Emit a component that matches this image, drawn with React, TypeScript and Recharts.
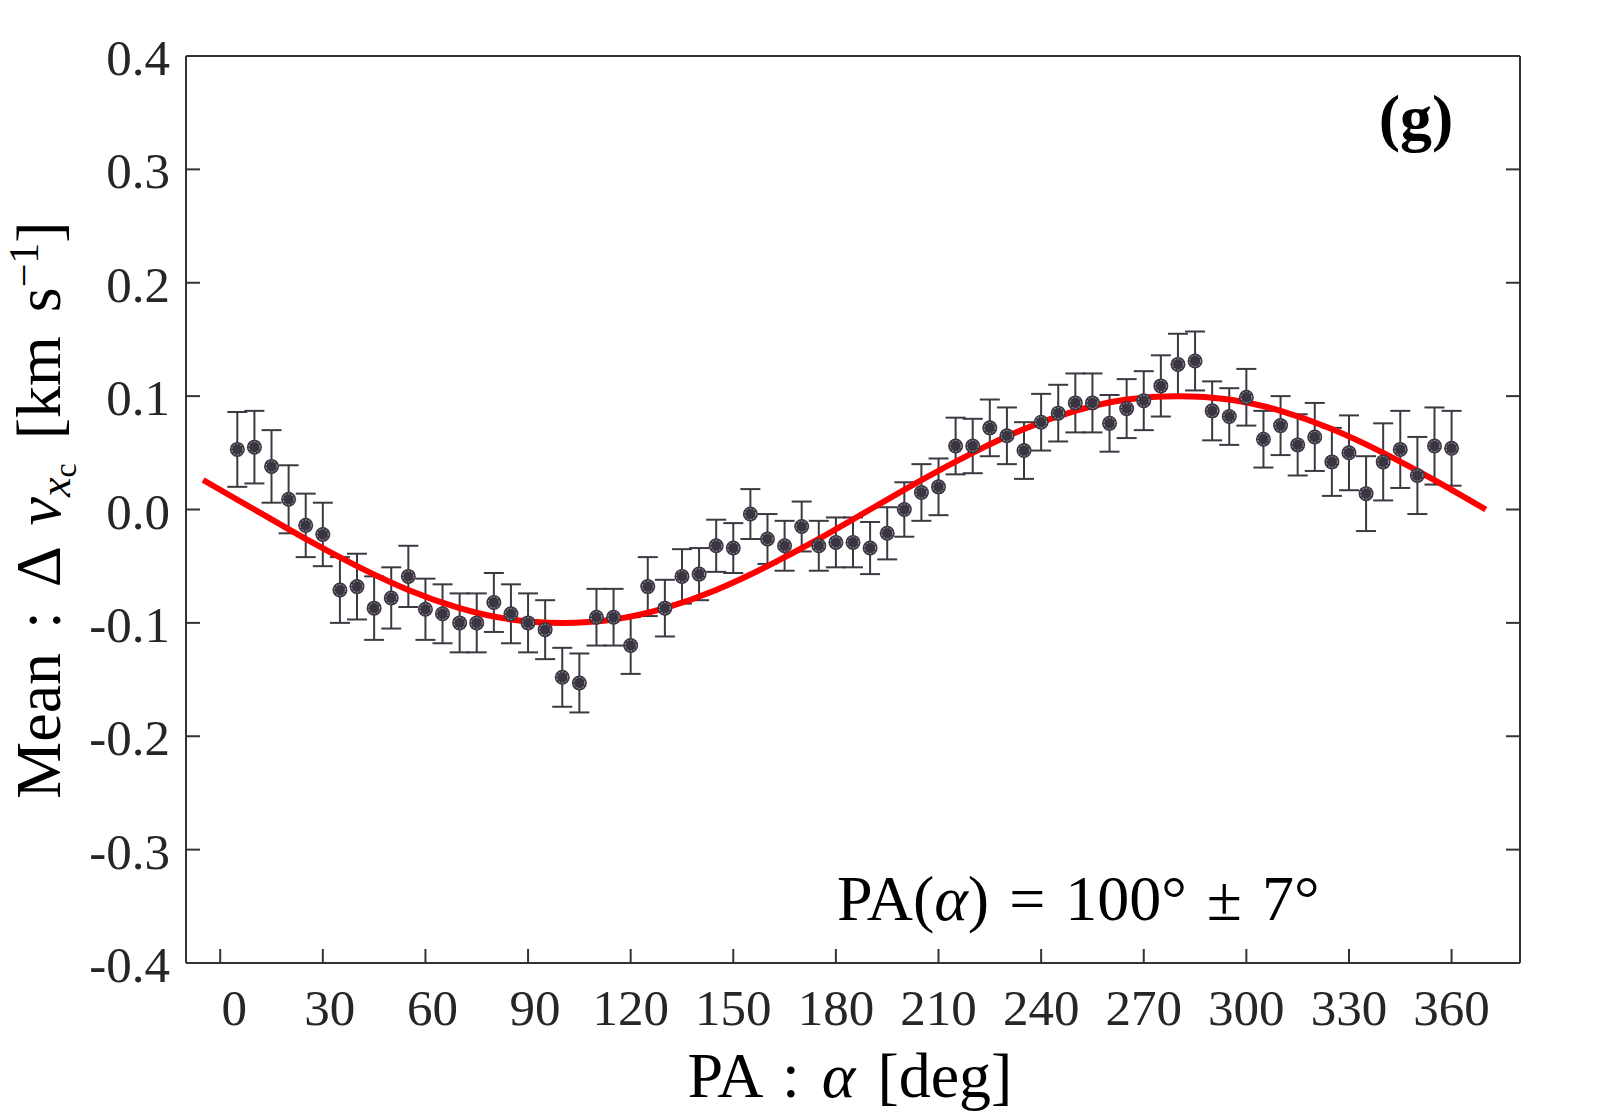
import { ComposedChart, Scatter, Line, ErrorBar, XAxis, YAxis, Customized } from 'recharts';

// Mean offset vs position angle, with a sinusoidal fit (panel g)

const angles = [
  5, 10, 15, 20, 25, 30, 35, 40, 45, 50, 55, 60, 65, 70, 75, 80, 85, 90,
  95, 100, 105, 110, 115, 120, 125, 130, 135, 140, 145, 150, 155, 160, 165, 170, 175, 180,
  185, 190, 195, 200, 205, 210, 215, 220, 225, 230, 235, 240, 245, 250, 255, 260, 265, 270,
  275, 280, 285, 290, 295, 300, 305, 310, 315, 320, 325, 330, 335, 340, 345, 350, 355, 360,
];

const means = [
  0.053, 0.055, 0.038, 0.009, -0.014, -0.022, -0.071, -0.068, -0.087, -0.078, -0.059, -0.088,
  -0.092, -0.1, -0.1, -0.082, -0.092, -0.1, -0.106, -0.148, -0.153, -0.095, -0.095, -0.12,
  -0.068, -0.087, -0.059, -0.057, -0.032, -0.034, -0.004, -0.026, -0.032, -0.015, -0.032, -0.029,
  -0.029, -0.034, -0.021, 0.0, 0.015, 0.02, 0.056, 0.056, 0.072, 0.065, 0.052, 0.077,
  0.085, 0.094, 0.094, 0.076, 0.089, 0.096, 0.109, 0.128, 0.131, 0.087, 0.082, 0.099,
  0.062, 0.074, 0.057, 0.064, 0.042, 0.05, 0.014, 0.042, 0.053, 0.03, 0.056, 0.054,
];

const errors = [
  0.033, 0.032, 0.032, 0.03, 0.028, 0.028, 0.029, 0.029, 0.028, 0.027, 0.027, 0.027,
  0.026, 0.026, 0.026, 0.026, 0.026, 0.026, 0.026, 0.026, 0.026, 0.025, 0.025, 0.025,
  0.026, 0.025, 0.024, 0.023, 0.023, 0.022, 0.022, 0.022, 0.022, 0.022, 0.022, 0.022,
  0.022, 0.023, 0.023, 0.024, 0.025, 0.025, 0.025, 0.024, 0.025, 0.025, 0.025, 0.025,
  0.025, 0.026, 0.026, 0.025, 0.026, 0.026, 0.027, 0.027, 0.026, 0.026, 0.025, 0.025,
  0.025, 0.026, 0.027, 0.03, 0.03, 0.033, 0.033, 0.034, 0.034, 0.034, 0.034, 0.033,
];

// fitted curve
const fitAngles = [-5, 10, 25, 40, 55, 70, 85, 100, 115, 130, 145, 160, 175, 190, 205, 220, 235, 250, 265, 280, 295, 310, 325, 340, 355, 370];
const fitValues = [
  0.026, 0.0, -0.026, -0.05, -0.071, -0.087, -0.097, -0.1, -0.097, -0.087, -0.071, -0.05, -0.026,
  0.0, 0.026, 0.05, 0.071, 0.087, 0.097, 0.1, 0.097, 0.087, 0.071, 0.05, 0.026, 0.0,
];

const xTicks = [0, 30, 60, 90, 120, 150, 180, 210, 240, 270, 300, 330, 360];
const yTicks = [-0.4, -0.3, -0.2, -0.1, 0, 0.1, 0.2, 0.3, 0.4];

const points = angles.map((a, i) => ({ a, m: means[i], err: errors[i] }));
const fit = fitAngles.map((a, i) => ({ a, f: fitValues[i] }));

const FONT = '"Liberation Serif", "Times New Roman", serif';
const AXIS = '#333333';
const TICK_TEXT = '#262626';
const TICK_LEN = 14;

const BottomTick = ({ x, y, payload }: any) => {
  const label = String(payload.value);
  const shift = (3 - label.length) * 7;
  return (
    <g>
      <line x1={x} x2={x} y1={y} y2={y - TICK_LEN} stroke={AXIS} strokeWidth={2} />
      <text x={x + shift} y={y + 62} textAnchor="middle" fontSize={51} fontFamily={FONT} fill={TICK_TEXT}>
        {label}
      </text>
    </g>
  );
};

const TopTick = ({ x, y }: any) => (
  <line x1={x} x2={x} y1={y} y2={y + TICK_LEN} stroke={AXIS} strokeWidth={2} />
);

const LeftTick = ({ x, y, payload }: any) => (
  <g>
    <line x1={x} x2={x + TICK_LEN} y1={y} y2={y} stroke={AXIS} strokeWidth={2} />
    <text x={x - 16} y={y + 19} textAnchor="end" fontSize={51} fontFamily={FONT} fill={TICK_TEXT}>
      {Number(payload.value).toFixed(1)}
    </text>
  </g>
);

const RightTick = ({ x, y }: any) => (
  <line x1={x} x2={x - TICK_LEN} y1={y} y2={y} stroke={AXIS} strokeWidth={2} />
);

const Marker = ({ cx, cy }: any) => (
  <g>
    <circle cx={cx} cy={cy} r={7.5} fill="#3a3540" />
    <circle cx={cx} cy={cy} r={5.5} fill="none" stroke="#a9a5ad" strokeWidth={1} strokeDasharray="2 1.5" />
  </g>
);

const Annotations = () => (
  <g fontFamily={FONT} fill="#000">
    <text x={1416} y={139} textAnchor="middle" fontSize={64} fontWeight="bold">
      (g)
    </text>
    <text x={837} y={920} fontSize={64} wordSpacing={4}>
      PA(<tspan fontStyle="italic">α</tspan>) = 100° ± 7°
    </text>
    <text x={850} y={1097} textAnchor="middle" fontSize={64} wordSpacing={6}>
      PA : <tspan fontStyle="italic">α</tspan> [deg]
    </text>
    <text transform="rotate(-90)" x={-510} y={60} textAnchor="middle" fontSize={64} wordSpacing={8}>
      Mean : Δ <tspan fontStyle="italic">v</tspan>
      <tspan fontStyle="italic" fontSize={44} dy={10}>x</tspan>
      <tspan fontSize={32} dy={6}>c</tspan>
      <tspan dy={-16}>{'  [km s'}</tspan>
      <tspan fontSize={42} dy={-22}>−1</tspan>
      <tspan dy={22}>]</tspan>
    </text>
  </g>
);

export default function App() {
  return (
    <div style={{ position: 'absolute', left: 0, top: 0, background: '#fff' }}>
      <ComposedChart width={1600} height={1120} margin={{ top: 55, right: 79, bottom: 156, left: 185 }}>
        <XAxis
          dataKey="a"
          type="number"
          domain={[-10, 380]}
          ticks={xTicks}
          interval={0}
          allowDataOverflow
          height={1}
          tickSize={0}
          tickMargin={0}
          tickLine={false}
          axisLine={{ stroke: AXIS, strokeWidth: 2 }}
          tick={<BottomTick />}
        />
        <XAxis
          xAxisId="top"
          orientation="top"
          type="number"
          domain={[-10, 380]}
          ticks={xTicks}
          interval={0}
          allowDataOverflow
          height={1}
          tickSize={0}
          tickMargin={0}
          tickLine={false}
          axisLine={{ stroke: AXIS, strokeWidth: 2 }}
          tick={<TopTick />}
        />
        <YAxis
          type="number"
          domain={[-0.4, 0.4]}
          ticks={yTicks}
          interval={0}
          allowDataOverflow
          width={1}
          tickSize={0}
          tickMargin={0}
          tickLine={false}
          axisLine={{ stroke: AXIS, strokeWidth: 2 }}
          tick={<LeftTick />}
        />
        <YAxis
          yAxisId="right"
          orientation="right"
          type="number"
          domain={[-0.4, 0.4]}
          ticks={yTicks}
          interval={0}
          allowDataOverflow
          width={1}
          tickSize={0}
          tickMargin={0}
          tickLine={false}
          axisLine={{ stroke: AXIS, strokeWidth: 2 }}
          tick={<RightTick />}
        />
        <Scatter data={points} dataKey="m" shape={<Marker />} isAnimationActive={false}>
          <ErrorBar dataKey="err" direction="y" width={10} stroke="#3c3942" strokeWidth={2} />
        </Scatter>
        <Line
          data={fit}
          dataKey="f"
          type="natural"
          stroke="#ff0000"
          strokeWidth={6}
          dot={false}
          activeDot={false}
          isAnimationActive={false}
        />
        <Customized component={<Annotations />} />
      </ComposedChart>
    </div>
  );
}
